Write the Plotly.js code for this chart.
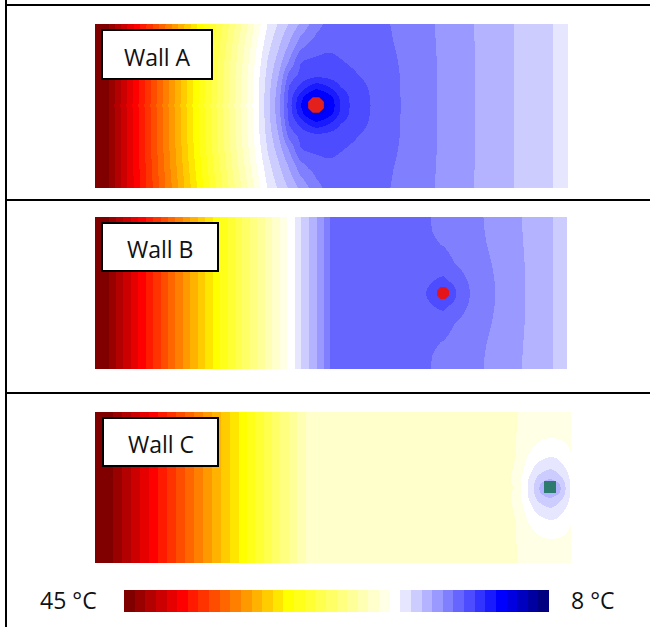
<!DOCTYPE html>
<html><head><meta charset="utf-8">
<script src="https://cdn.plot.ly/plotly-3.0.1.min.js"></script>
<style>html,body{margin:0;padding:0;background:#fff}#chart{width:650px;height:627px}</style>
</head><body><div id="chart"></div>
<script>
// ---------- scale ----------
const tempMax = 45, tempMin = 8;
const scaleLabels = ['45 °C', '8 °C'];
const bandColors = ['#800000','#990000','#b30000','#cc0000','#e60000','#ff0000','#ff1a00','#ff3300','#ff4d00','#ff6600',
  '#ff8000','#ff9900','#ffb300','#ffcc00','#ffe600','#ffff00','#ffff1a','#ffff33','#ffff4d','#ffff66',
  '#ffff80','#ffff99','#ffffb3','#ffffcc','#ffffe6','#ffffff','#e6e6ff','#ccccff','#b3b3ff','#9999ff',
  '#8080ff','#6666ff','#4d4dff','#3333ff','#1a1aff','#0000ff','#0000e0','#0000c0','#0000a0','#000080'];
const wallNames = ['Wall A', 'Wall B', 'Wall C'];

// ---------- Wall A (grid positions, values in scale steps: 0 = 45 °C, 40 = 8 °C) ----------
const wallA_x = [0, 13, 155, 163, 173, 183, 194, 205, 213, 221, 229, 237, 245, 255, 275, 305, 342, 380, 419, 458, 473];
const wallA_y = [0, 21, 36, 51, 64, 73, 81, 89, 98, 111, 126, 141, 164];
const wallA_step = [
  [0.5, 1, 23.41, 24.67, 26.15, 27.11, 28.12, 29.17, 29.92, 30.69, 31.07, 31.18, 31.29, 31.43, 31.31, 30.84, 29.93, 28.95, 28, 27, 26.6],
  [0.5, 1, 23.98, 25.27, 26.73, 27.84, 29.19, 30.64, 31.17, 31.42, 31.66, 31.85, 31.72, 31.59, 31.34, 30.91, 29.96, 28.98, 28, 27, 26.6],
  [0.5, 1, 24.28, 25.59, 27.17, 28.40, 30.06, 31.92, 32.10, 32.22, 32.30, 32.16, 32.04, 31.87, 31.51, 30.95, 29.98, 28.99, 28, 27, 26.6],
  [0.5, 1, 24.49, 25.82, 27.48, 28.98, 31.39, 32.27, 32.51, 32.74, 32.69, 32.53, 32.38, 32.19, 31.75, 30.98, 29.99, 28.99, 28, 27, 26.6],
  [0.5, 1, 24.60, 25.93, 27.66, 29.38, 32.21, 33.44, 34.34, 34.93, 34.51, 33.92, 33.09, 32.65, 31.91, 30.99, 30.00, 29.00, 28, 27, 26.6],
  [0.5, 1, 24.65, 25.98, 27.73, 29.55, 32.47, 34.58, 35.75, 36.30, 35.92, 35.09, 33.80, 32.85, 31.98, 31.00, 30.00, 29.00, 28, 27, 26.6],
  [0.5, 1, 24.67, 26.00, 27.75, 29.60, 32.57, 35.00, 36.16, 36.80, 36.27, 35.43, 34.00, 32.91, 32.00, 31.00, 30.00, 29.00, 28, 27, 26.6],
  [0.5, 1, 24.65, 25.98, 27.73, 29.55, 32.47, 34.58, 35.75, 36.30, 35.92, 35.09, 33.80, 32.85, 31.98, 31.00, 30.00, 29.00, 28, 27, 26.6],
  [0.5, 1, 24.60, 25.93, 27.66, 29.38, 32.21, 33.44, 34.34, 34.93, 34.51, 33.92, 33.09, 32.65, 31.91, 30.99, 30.00, 29.00, 28, 27, 26.6],
  [0.5, 1, 24.49, 25.82, 27.48, 28.98, 31.39, 32.27, 32.51, 32.74, 32.69, 32.53, 32.38, 32.19, 31.75, 30.98, 29.99, 28.99, 28, 27, 26.6],
  [0.5, 1, 24.28, 25.59, 27.17, 28.40, 30.06, 31.92, 32.10, 32.22, 32.30, 32.16, 32.04, 31.87, 31.51, 30.95, 29.98, 28.99, 28, 27, 26.6],
  [0.5, 1, 23.98, 25.27, 26.73, 27.84, 29.19, 30.64, 31.17, 31.42, 31.66, 31.85, 31.72, 31.59, 31.34, 30.91, 29.96, 28.98, 28, 27, 26.6],
  [0.5, 1, 23.41, 24.67, 26.15, 27.11, 28.12, 29.17, 29.92, 30.69, 31.07, 31.18, 31.29, 31.43, 31.31, 30.84, 29.93, 28.95, 28, 27, 26.6]
];
const pipeA_x = [221], pipeA_y = [81];

// ---------- Wall B ----------
const wallB_x = [0, 13, 199, 205, 213, 221, 228, 235, 285, 325, 333, 341, 348, 355, 363, 375, 388, 400, 430, 458, 472];
const wallB_y = [0, 15, 28, 45, 62, 70, 76, 82, 90, 107, 124, 137, 152];
const wallB_step = [
  [0.5, 1, 26, 27, 28, 29, 30, 31, 31.5, 31.11, 31.03, 30.91, 30.78, 30.64, 30.48, 30.25, 30.00, 29.69, 28.90, 28, 27.6],
  [0.5, 1, 26, 27, 28, 29, 30, 31, 31.5, 31.12, 31.05, 30.95, 30.81, 30.68, 30.52, 30.29, 30.03, 29.73, 28.92, 28, 27.6],
  [0.5, 1, 26, 27, 28, 29, 30, 31, 31.5, 31.18, 31.11, 31.05, 30.98, 30.82, 30.65, 30.38, 30.09, 29.78, 28.94, 28, 27.6],
  [0.5, 1, 26, 27, 28, 29, 30, 31, 31.5, 31.55, 31.60, 31.60, 31.40, 31.12, 30.87, 30.56, 30.22, 29.89, 28.97, 28, 27.6],
  [0.5, 1, 26, 27, 28, 29, 30, 31, 31.5, 31.70, 31.80, 32.02, 32.15, 31.81, 31.38, 30.83, 30.37, 29.96, 29.00, 28, 27.6],
  [0.5, 1, 26, 27, 28, 29, 30, 31, 31.5, 31.78, 32.02, 32.40, 32.70, 32.35, 31.75, 30.92, 30.44, 29.99, 29.00, 28, 27.6],
  [0.5, 1, 26, 27, 28, 29, 30, 31, 31.5, 31.80, 32.10, 32.60, 32.90, 32.40, 31.85, 30.96, 30.46, 30.00, 29.00, 28, 27.6],
  [0.5, 1, 26, 27, 28, 29, 30, 31, 31.5, 31.78, 32.02, 32.40, 32.70, 32.35, 31.75, 30.92, 30.44, 29.99, 29.00, 28, 27.6],
  [0.5, 1, 26, 27, 28, 29, 30, 31, 31.5, 31.70, 31.80, 32.02, 32.15, 31.81, 31.38, 30.83, 30.37, 29.96, 29.00, 28, 27.6],
  [0.5, 1, 26, 27, 28, 29, 30, 31, 31.5, 31.55, 31.60, 31.60, 31.40, 31.12, 30.87, 30.56, 30.22, 29.89, 28.97, 28, 27.6],
  [0.5, 1, 26, 27, 28, 29, 30, 31, 31.5, 31.18, 31.11, 31.05, 30.98, 30.82, 30.65, 30.38, 30.09, 29.78, 28.94, 28, 27.6],
  [0.5, 1, 26, 27, 28, 29, 30, 31, 31.5, 31.12, 31.05, 30.95, 30.81, 30.68, 30.52, 30.29, 30.03, 29.73, 28.92, 28, 27.6],
  [0.5, 1, 26, 27, 28, 29, 30, 31, 31.5, 31.11, 31.03, 30.91, 30.78, 30.64, 30.48, 30.25, 30.00, 29.69, 28.90, 28, 27.6]
];
const pipeB_x = [348], pipeB_y = [76];

// ---------- Wall C ----------
const wallC_x = [0, 17, 143, 210, 305, 405, 420, 425, 432, 438, 443, 449, 455, 461, 467, 472, 476];
const wallC_y = [0, 25, 44, 56, 66, 72, 76, 80, 86, 96, 108, 127, 151];
const wallC_step = [
  [0.5, 1, 15, 23, 23.5, 23.9, 23.97, 24.03, 24.12, 24.20, 24.26, 24.33, 24.40, 24.45, 24.50, 24.53, 24.55],
  [0.5, 1, 15, 23, 23.5, 23.9, 23.98, 24.10, 24.35, 24.60, 24.80, 24.93, 24.98, 24.95, 24.88, 24.80, 24.72],
  [0.5, 1, 15, 23, 23.5, 23.9, 24.00, 24.45, 25.01, 25.40, 25.65, 25.85, 25.98, 25.90, 25.60, 25.30, 25.02],
  [0.5, 1, 15, 23, 23.5, 23.9, 24.02, 24.60, 25.40, 26.05, 26.40, 26.75, 26.95, 26.70, 26.25, 25.85, 25.55],
  [0.5, 1, 15, 23, 23.5, 23.9, 24.05, 24.95, 25.85, 26.65, 27.30, 27.75, 28.00, 27.60, 27.05, 26.25, 25.75],
  [0.5, 1, 15, 23, 23.5, 23.9, 24.03, 24.97, 25.95, 26.90, 27.80, 28.40, 28.70, 28.40, 27.70, 26.50, 25.80],
  [0.5, 1, 15, 23, 23.5, 23.9, 24.02, 25.00, 26.00, 27.00, 28.00, 28.50, 28.80, 28.50, 27.80, 26.50, 25.80],
  [0.5, 1, 15, 23, 23.5, 23.9, 24.03, 24.97, 25.95, 26.90, 27.80, 28.40, 28.70, 28.40, 27.70, 26.50, 25.80],
  [0.5, 1, 15, 23, 23.5, 23.9, 24.05, 24.95, 25.85, 26.65, 27.30, 27.75, 28.00, 27.60, 27.05, 26.25, 25.75],
  [0.5, 1, 15, 23, 23.5, 23.9, 24.02, 24.60, 25.40, 26.05, 26.40, 26.75, 26.95, 26.70, 26.25, 25.85, 25.55],
  [0.5, 1, 15, 23, 23.5, 23.9, 24.00, 24.45, 25.01, 25.40, 25.65, 25.85, 25.98, 25.90, 25.60, 25.30, 25.02],
  [0.5, 1, 15, 23, 23.5, 23.9, 23.98, 24.10, 24.35, 24.60, 24.80, 24.93, 24.98, 24.95, 24.88, 24.80, 24.72],
  [0.5, 1, 15, 23, 23.5, 23.9, 23.97, 24.03, 24.12, 24.20, 24.26, 24.33, 24.40, 24.45, 24.50, 24.53, 24.55]
];
const pipeC_x = [455], pipeC_y = [75];

// ---------- build ----------
const nB = bandColors.length;
const stepToTemp = s => tempMax - s * (tempMax - tempMin) / nB;
const colorscale = [];
for (let i = 0; i < nB; i++) {
  const c = bandColors[nB - 1 - i];
  colorscale.push([i / nB, c]);
  colorscale.push([(i + 1) / nB, c]);
}
const W = 650, H = 627;
const px = v => v / W, py = v => 1 - v / H;

function wallTrace(x, y, steps, xa, ya) {
  return {type: 'heatmap', x: x, y: y, z: steps.map(r => r.map(stepToTemp)),
    zsmooth: 'best', colorscale: colorscale, zmin: tempMin, zmax: tempMax,
    showscale: false, hoverinfo: 'skip', xaxis: xa, yaxis: ya};
}
function pipeTrace(x, y, xa, ya, color, symbol, size) {
  return {type: 'scatter', mode: 'markers', x: x, y: y, xaxis: xa, yaxis: ya,
    marker: {color: color, symbol: symbol, size: size, line: {width: 0}}, hoverinfo: 'skip'};
}
const barIdx = bandColors.map((c, k) => k);
const barTemps = bandColors.map((c, k) => stepToTemp(k + 0.5));

const data = [
  wallTrace(wallA_x, wallA_y, wallA_step, 'x', 'y'),
  wallTrace(wallB_x, wallB_y, wallB_step, 'x2', 'y2'),
  wallTrace(wallC_x, wallC_y, wallC_step, 'x3', 'y3'),
  pipeTrace(pipeA_x, pipeA_y, 'x', 'y', '#e3201b', 'octagon', 17),
  pipeTrace(pipeB_x, pipeB_y, 'x2', 'y2', '#e5141a', 'octagon', 13),
  pipeTrace(pipeC_x, pipeC_y, 'x3', 'y3', '#2d7a6e', 'square', 12),
  {type: 'heatmap', x: barIdx, y: [0], z: [barTemps], colorscale: colorscale, zmin: tempMin, zmax: tempMax,
   showscale: false, hoverinfo: 'skip', xaxis: 'x4', yaxis: 'y4'}
];

const hid = {visible: false, fixedrange: true, showgrid: false, zeroline: false};
const layout = {
  width: W, height: H, margin: {l: 0, r: 0, t: 0, b: 0}, showlegend: false,
  paper_bgcolor: '#ffffff', plot_bgcolor: 'rgba(0,0,0,0)',
  font: {family: 'Open Sans, sans-serif', color: '#000'},
  xaxis:  Object.assign({domain: [px(95), px(568)], range: [0, 473], anchor: 'y'}, hid),
  yaxis:  Object.assign({domain: [py(188), py(24)], range: [164, 0], anchor: 'x'}, hid),
  xaxis2: Object.assign({domain: [px(95), px(567)], range: [0, 472], anchor: 'y2'}, hid),
  yaxis2: Object.assign({domain: [py(369), py(217)], range: [152, 0], anchor: 'x2'}, hid),
  xaxis3: Object.assign({domain: [px(95), px(571)], range: [0, 476], anchor: 'y3'}, hid),
  yaxis3: Object.assign({domain: [py(563), py(412)], range: [151, 0], anchor: 'x3'}, hid),
  xaxis4: Object.assign({domain: [px(124), px(549)], range: [-0.5, nB - 0.5], anchor: 'y4'}, hid),
  yaxis4: Object.assign({domain: [py(612), py(590)], range: [-0.5, 0.5], anchor: 'x4'}, hid),
  shapes: [],
  annotations: []
};
const line = (x0, y0, x1, y1) => ({type: 'line', xref: 'paper', yref: 'paper', x0: px(x0), y0: py(y0), x1: px(x1), y1: py(y1),
  line: {color: '#000', width: 2}, layer: 'above'});
layout.shapes.push(line(6, 0, 6, 627), line(5, 5, 650, 5), line(5, 200, 650, 200), line(5, 393, 650, 393));
const boxes = [[102, 30, 212, 79], [102, 223, 218, 271], [103, 418, 218, 466]];
boxes.forEach((b, i) => {
  layout.shapes.push({type: 'rect', xref: 'paper', yref: 'paper', x0: px(b[0]), x1: px(b[2]), y0: py(b[3]), y1: py(b[1]),
    fillcolor: '#ffffff', line: {color: '#000', width: 2}, layer: 'above'});
  layout.annotations.push({xref: 'paper', yref: 'paper', x: px((b[0] + b[2]) / 2), y: py((b[1] + b[3]) / 2 + 2),
    text: wallNames[i], showarrow: false, xanchor: 'center', yanchor: 'middle',
    font: {family: 'Open Sans, sans-serif', size: 23, color: '#111'}});
});
layout.annotations.push(
  {xref: 'paper', yref: 'paper', x: px(68.5), y: py(600), text: scaleLabels[0], showarrow: false,
   xanchor: 'center', yanchor: 'middle', font: {family: 'Open Sans, sans-serif', size: 23, color: '#111'}},
  {xref: 'paper', yref: 'paper', x: px(592), y: py(600), text: scaleLabels[1], showarrow: false,
   xanchor: 'center', yanchor: 'middle', font: {family: 'Open Sans, sans-serif', size: 23, color: '#111'}}
);
Plotly.newPlot('chart', data, layout, {staticPlot: true, displayModeBar: false});
</script></body></html>
